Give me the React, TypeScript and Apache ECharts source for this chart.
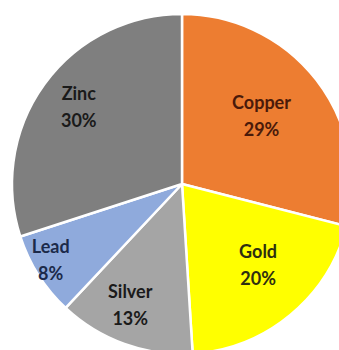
import React, { useEffect, useRef } from "react";
import * as echarts from "echarts";

const categories = ["Copper", "Gold", "Silver", "Lead", "Zinc"];
const values = [29, 20, 13, 8, 30];
const sliceColors = ["#ED7D31", "#FFFF00", "#A5A5A5", "#8FAADC", "#7F7F7F"];
const labelColors = ["#4A1A0A", "#2E2E10", "#1A1A1A", "#1C2A4A", "#1A1A1A"];
const labelOffsets: [number, number][] = [
  [10, -15],
  [20, 13],
  [-22, 38],
  [-57, 28],
  [-32, -26],
];

export default function App() {
  const ref = useRef<HTMLDivElement>(null);
  useEffect(() => {
    document.body.style.margin = "0";
    const chart = echarts.init(ref.current!, null, { renderer: "svg" });
    chart.setOption({
      animation: false,
      backgroundColor: "#ffffff",
      series: [
        {
          type: "pie",
          center: [182, 184],
          radius: 170,
          startAngle: 90,
          clockwise: true,
          avoidLabelOverlap: false,
          itemStyle: { borderColor: "#ffffff", borderWidth: 2.5 },
          label: {
            show: true,
            position: "inside",
            formatter: "{b}\n{c}%",
            fontFamily: "Lato",
            fontWeight: "bold",
            fontSize: 18,
            lineHeight: 27,
            align: "center",
          },
          labelLine: { show: false },
          data: categories.map((name, i) => ({
            name,
            value: values[i],
            itemStyle: { color: sliceColors[i] },
            label: { color: labelColors[i], offset: labelOffsets[i] },
          })),
        },
      ],
    });
    return () => chart.dispose();
  }, []);
  return <div ref={ref} style={{ width: 339, height: 350 }} />;
}
